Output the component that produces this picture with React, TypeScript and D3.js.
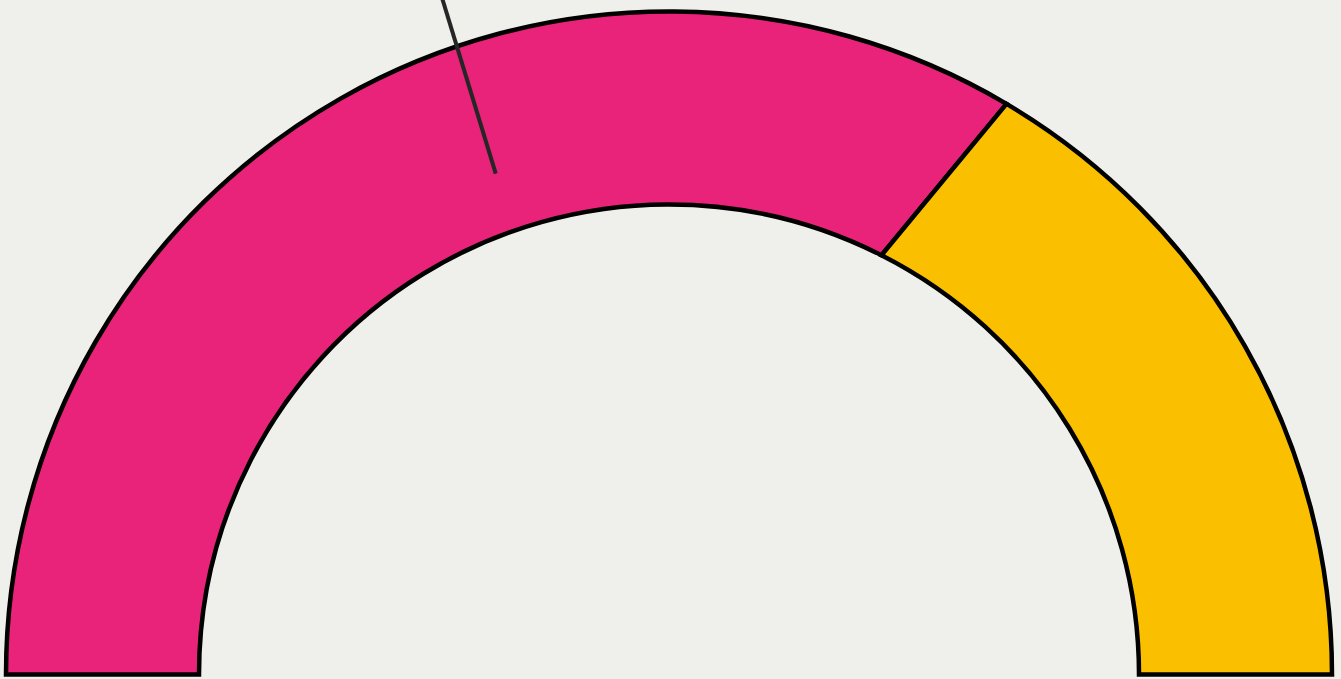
import { useRef, useEffect } from 'react';
import * as d3 from 'd3';

// gauge bands, in order from left to right
const bandNames = ['low', 'high'];
const bandValues = [67, 33];
const bandColors = ['#e9237a', '#fac000'];

// needle reading on the same 0..100 scale
const needleValue = 39.4;

const width = 1341;
const height = 679;

export default function App() {
  const svgRef = useRef<SVGSVGElement>(null);

  useEffect(() => {
    document.body.style.margin = '0';
    document.body.style.background = '#eff0ec';

    const svg = d3.select(svgRef.current);
    svg.selectAll('*').remove();

    const cx = 669;
    const cy = 674.5;
    const outerR = 663;
    const innerR = 470;
    // the split edges lean a little, they are not quite radial
    const lean = -0.065;

    const total = d3.sum(bandValues);
    const angle = d3.scaleLinear()
      .domain([0, total])
      .range([-Math.PI / 2, Math.PI / 2]);

    // gauge angle (0 = up, clockwise) -> canvas angle
    const ca = (a: number) => a - Math.PI / 2;

    svg.append('rect')
      .attr('width', width)
      .attr('height', height)
      .attr('fill', '#eff0ec');

    const g = svg.append('g').attr('transform', `translate(${cx},${cy})`);

    let acc = 0;
    const bands = bandValues.map((v, i) => {
      const a0 = angle(acc);
      acc += v;
      const a1 = angle(acc);
      return { name: bandNames[i], a0, a1, first: i === 0, last: i === bandValues.length - 1 };
    });

    g.selectAll('path.band')
      .data(bands)
      .enter()
      .append('path')
      .attr('class', 'band')
      .attr('d', (d) => {
        const b0 = d.first ? d.a0 : d.a0 + lean;
        const b1 = d.last ? d.a1 : d.a1 + lean;
        const p = d3.path();
        const [ox0, oy0] = d3.pointRadial(d.a0, outerR);
        p.moveTo(ox0, oy0);
        p.arc(0, 0, outerR, ca(d.a0), ca(d.a1), false);
        const [ix1, iy1] = d3.pointRadial(b1, innerR);
        p.lineTo(ix1, iy1);
        p.arc(0, 0, innerR, ca(b1), ca(b0), true);
        p.closePath();
        return p.toString();
      })
      .attr('fill', (d, i) => bandColors[i])
      .attr('stroke', '#000')
      .attr('stroke-width', 4.5)
      .attr('stroke-linejoin', 'miter');

    // needle
    const na = angle(needleValue);
    const [nx0, ny0] = d3.pointRadial(na, 530);
    const [nx1, ny1] = d3.pointRadial(na + 0.011, 760);
    g.append('line')
      .attr('x1', nx0)
      .attr('y1', ny0)
      .attr('x2', nx1)
      .attr('y2', ny1)
      .attr('stroke', '#262626')
      .attr('stroke-width', 4);
  }, []);

  return (
    <svg
      ref={svgRef}
      width={width}
      height={height}
      style={{ position: 'absolute', left: 0, top: 0, display: 'block' }}
    ></svg>
  );
}
